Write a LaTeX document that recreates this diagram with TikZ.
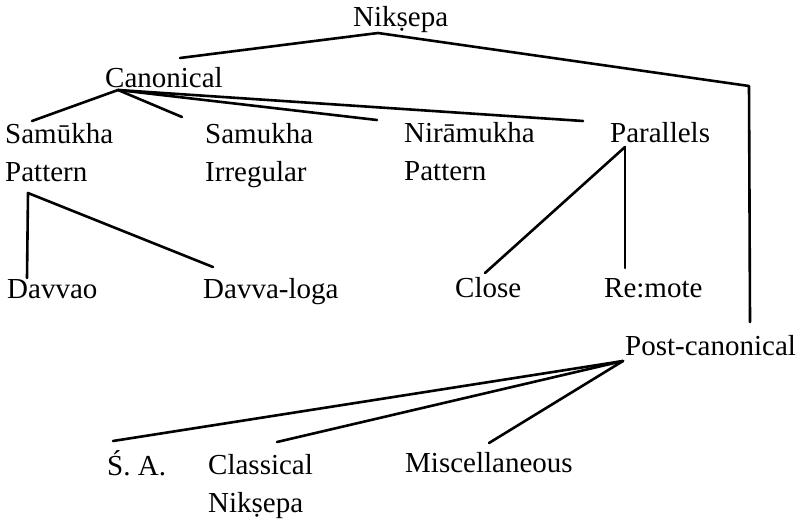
\documentclass[tikz,border=0pt]{standalone}
\usepackage{fontspec}
\setmainfont{Liberation Serif}
\begin{document}
\begin{tikzpicture}[x=1pt,y=-1pt,
  lbl/.style={inner sep=0pt,anchor=base west,align=left,font=\fontsize{29}{38}\selectfont},
  conn/.style={line width=2.6pt,line cap=round,line join=round}]
\fill[white] (0,0) rectangle (802,519);
\useasboundingbox (0,0) rectangle (802,519);
% nodes (multi-line nodes are placed by the baseline of their last line)
\node[lbl] (nik)  at (353,27)  {Nikṣepa};
\node[lbl] (can)  at (105,87)  {Canonical};
\node[lbl] (samP) at (5,181)   {Samūkha\\Pattern};
\node[lbl] (samI) at (205,181) {Samukha\\Irregular};
\node[lbl] (nir)  at (404,180) {Nirāmukha\\Pattern};
\node[lbl] (par)  at (610,142) {Parallels};
\node[lbl] (dav)  at (7,298)   {Davvao};
\node[lbl] (dl)   at (203,298) {Davva-loga};
\node[lbl] (clo)  at (455,297) {Close};
\node[lbl] (rem)  at (604,297) {Re:mote};
\node[lbl] (post) at (625,355) {Post-canonical};
\node[lbl] (sa)   at (107,475) {Ś. A.};
\node[lbl] (cla)  at (208,512) {Classical\\Nikṣepa};
\node[lbl] (mis)  at (405,472) {Miscellaneous};
% connector points
\coordinate (nikJ)  at ([xshift=25pt,yshift=-6pt]nik.base west);
\coordinate (canT)  at ([xshift=75pt,yshift=29pt]can.base west);
\coordinate (canJ)  at ([xshift=13pt,yshift=-3pt]can.base west);
\coordinate (postT) at ([xshift=125pt,yshift=33pt]post.base west);
\coordinate (bend)  at (749,86);
\coordinate (postJ) at ([xshift=-2pt,yshift=-6pt]post.base west);
\coordinate (samPT) at ([xshift=27pt,yshift=60pt]samP.base west);
\coordinate (samPJ) at ([xshift=23pt,yshift=-12pt]samP.base west);
\coordinate (samIT) at ([xshift=-23pt,yshift=64pt]samI.base west);
\coordinate (nirT)  at ([xshift=-27pt,yshift=60pt]nir.base west);
\coordinate (parT)  at ([xshift=-27pt,yshift=21pt]par.base west);
\coordinate (parJ)  at ([xshift=15pt,yshift=-5pt]par.base west);
\coordinate (davT)  at ([xshift=20pt,yshift=20pt]dav.base west);
\coordinate (dlT)   at ([xshift=10pt,yshift=31pt]dl.base west);
\coordinate (cloT)  at ([xshift=30pt,yshift=24pt]clo.base west);
\coordinate (remT)  at ([xshift=21pt,yshift=29pt]rem.base west);
\coordinate (saT)   at ([xshift=6pt,yshift=34pt]sa.base west);
\coordinate (claT)  at ([xshift=69pt,yshift=70pt]cla.base west);
\coordinate (misT)  at ([xshift=84pt,yshift=29pt]mis.base west);
% connectors
\draw[conn] (nikJ) -- (canT);
\draw[conn] (nikJ) -- (bend) -- (postT);
\draw[conn] (canJ) -- (samPT);
\draw[conn] (canJ) -- (samIT);
\draw[conn] (canJ) -- (nirT);
\draw[conn] (canJ) -- (parT);
\draw[conn] (samPJ) -- (davT);
\draw[conn] (samPJ) -- (dlT);
\draw[conn] (parJ) -- (cloT);
\draw[conn] (parJ) -- (remT);
\draw[conn] (postJ) -- (saT);
\draw[conn] (postJ) -- (claT);
\draw[conn] (postJ) -- (misT);
\end{tikzpicture}
\end{document}
